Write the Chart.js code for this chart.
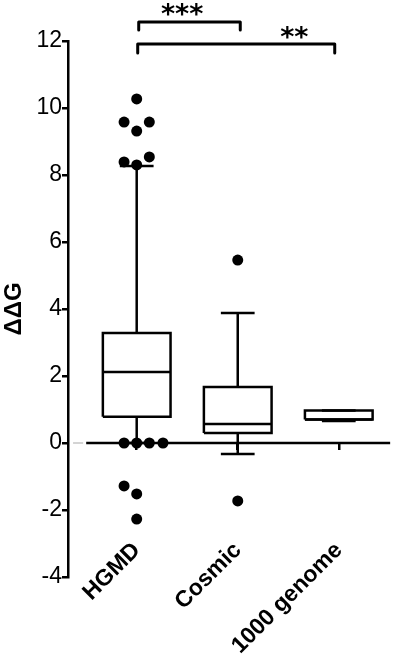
<!DOCTYPE html>
<html><head><meta charset="utf-8">
<script src="https://cdn.jsdelivr.net/npm/chart.js@4/dist/chart.umd.min.js"></script>
<style>html,body{margin:0;padding:0;background:#fff}#wrap{width:396px;height:658px;position:relative}</style>
</head><body><div id="wrap"><canvas id="c"></canvas></div>
<script>
// ---- data ----
const categories = ['HGMD', 'Cosmic', '1000 genome'];
const q1 = [0.78, 0.30, 0.70];
const median = [2.12, 0.57, 0.70];
const q3 = [3.28, 1.67, 0.97];
const whiskerLow = [0, -0.33, 0.66];
const whiskerHigh = [8.27, 3.88, 0.97];
// outliers: group index, jitter offset inside the group, value
const outlierGroup  = [0, 0, 0, 0, 0, 0, 0, 0, 0, 0, 0, 0, 0, 0, 1, 1];
const outlierOffset = [0, -0.125, 0.125, 0, -0.125, 0, 0.125, -0.125, 0, 0.125, 0.26, -0.125, 0, 0, 0, 0];
const outlierValue  = [10.27, 9.58, 9.58, 9.31, 8.39, 8.30, 8.54, 0, 0, 0, 0, -1.28, -1.52, -2.27, 5.46, -1.73];
const yTicks = [-4, -2, 0, 2, 4, 6, 8, 10, 12];
// significance brackets
const sigStart = [1.02, 1.01];
const sigEnd = [2.025, 2.96];
const sigTop = [12.57, 11.91];
const sigLeg = [12.33, 11.64];
const sigLabel = ['***', '**'];
const sigLabelX = [1.45, 2.56];
const sigLabelY = [12.74, 12.05];
const zeroLineX = [0.5, 3.51];
const stubX = [0.37, 0.47];

// ---- build marks ----
const BOX_HALF = 0.335, CAP_HALF = 0.167;
const boxPts = [], linePts = [];
const brk = (arr, x) => arr.push({x: x, y: null});
categories.forEach((c, i) => {
  const x = i + 1;
  boxPts.push({x: x - BOX_HALF, y: q1[i]}, {x: x + BOX_HALF, y: q1[i]}, {x: x + BOX_HALF, y: q3[i]}, {x: x - BOX_HALF, y: q3[i]}, {x: x - BOX_HALF, y: q1[i]});
  brk(boxPts, x);
  linePts.push({x: x - BOX_HALF, y: median[i]}, {x: x + BOX_HALF, y: median[i]}); brk(linePts, x);
  linePts.push({x: x, y: q3[i]}, {x: x, y: whiskerHigh[i]}); brk(linePts, x);
  linePts.push({x: x, y: q1[i]}, {x: x, y: whiskerLow[i]}); brk(linePts, x);
  linePts.push({x: x - CAP_HALF, y: whiskerHigh[i]}, {x: x + CAP_HALF, y: whiskerHigh[i]}); brk(linePts, x);
  linePts.push({x: x - CAP_HALF, y: whiskerLow[i]}, {x: x + CAP_HALF, y: whiskerLow[i]}); brk(linePts, x);
});
const outPts = outlierValue.map((v, k) => ({x: outlierGroup[k] + 1 + outlierOffset[k], y: v}));
const brPts = [];
sigStart.forEach((s, i) => {
  brPts.push({x: s, y: sigLeg[i]}, {x: s, y: sigTop[i]}, {x: sigEnd[i], y: sigTop[i]}, {x: sigEnd[i], y: sigLeg[i]});
  brk(brPts, s);
});

const lineStyle = {type: 'line', showLine: true, pointRadius: 0, borderColor: '#000', borderWidth: 2.5, fill: false, tension: 0, spanGaps: false, borderJoinStyle: 'miter'};

const sigPlugin = {
  id: 'sigText',
  afterDatasetsDraw(chart) {
    const {ctx, scales: {x, y}} = chart;
    ctx.save();
    ctx.fillStyle = '#000';
    ctx.font = 'bold 27px "DejaVu Sans"';
    ctx.textAlign = 'center';
    ctx.textBaseline = 'middle';
    sigLabel.forEach((t, i) => ctx.fillText(t, x.getPixelForValue(sigLabelX[i]), y.getPixelForValue(sigLabelY[i])));
    ctx.restore();
  }
};

Chart.defaults.font.family = '"Liberation Sans", Arial, sans-serif';
Chart.defaults.color = '#000';

new Chart(document.getElementById('c'), {
  type: 'line',
  data: {
    datasets: [
      Object.assign({}, lineStyle, {data: [{x: stubX[0], y: 0}, {x: stubX[1], y: 0}], borderColor: '#d4d4d4', borderWidth: 2}),
      Object.assign({}, lineStyle, {data: [{x: zeroLineX[0], y: 0}, {x: zeroLineX[1], y: 0}]}),
      Object.assign({}, lineStyle, {data: boxPts}),
      Object.assign({}, lineStyle, {data: linePts}),
      Object.assign({}, lineStyle, {data: brPts, clip: false, borderJoinStyle: 'round', borderCapStyle: 'round', borderWidth: 3}),
      {type: 'scatter', data: outPts, pointRadius: 5.5, pointBackgroundColor: '#000', pointBorderWidth: 0, showLine: false}
    ]
  },
  options: {
    responsive: true,
    maintainAspectRatio: false,
    animation: false,
    events: [],
    layout: {padding: {top: 41, bottom: 81, left: 0, right: 4}},
    plugins: {legend: {display: false}, tooltip: {enabled: false}},
    scales: {
      x: {
        type: 'linear', min: 0.32, max: 3.512,
        position: {y: 0},
        afterBuildTicks: s => { s.ticks = categories.map((c, i) => ({value: i + 1})); },
        afterFit: s => { s.paddingLeft = 0; s.paddingRight = 0; s.paddingTop = 0; s.paddingBottom = 0; },
        border: {display: false},
        grid: {display: true, drawOnChartArea: false, drawTicks: true, tickLength: 7, color: '#000', lineWidth: 2.5},
        ticks: {
          autoSkip: false, minRotation: 45, maxRotation: 45, padding: 87,
          font: {size: 23, weight: 'bold'}, color: '#000',
          callback: v => categories[Math.round(v) - 1]
        }
      },
      y: {
        type: 'linear', min: -4, max: 12, position: 'left',
        afterBuildTicks: s => { s.ticks = yTicks.map(v => ({value: v})); },
        afterFit: s => { s.width = 68; s.paddingTop = 0; s.paddingBottom = 0; },
        border: {display: true, color: '#000', width: 2.5},
        grid: {display: true, drawOnChartArea: false, drawTicks: true, tickLength: 6, color: '#000', lineWidth: 2.5},
        ticks: {padding: 0, font: {size: 23}, color: '#000'},
        title: {display: true, text: 'ΔΔG', font: {size: 24, weight: 'bold'}, color: '#000', padding: {top: 0, bottom: 0}}
      }
    }
  },
  plugins: [sigPlugin]
});
</script>
</body></html>
